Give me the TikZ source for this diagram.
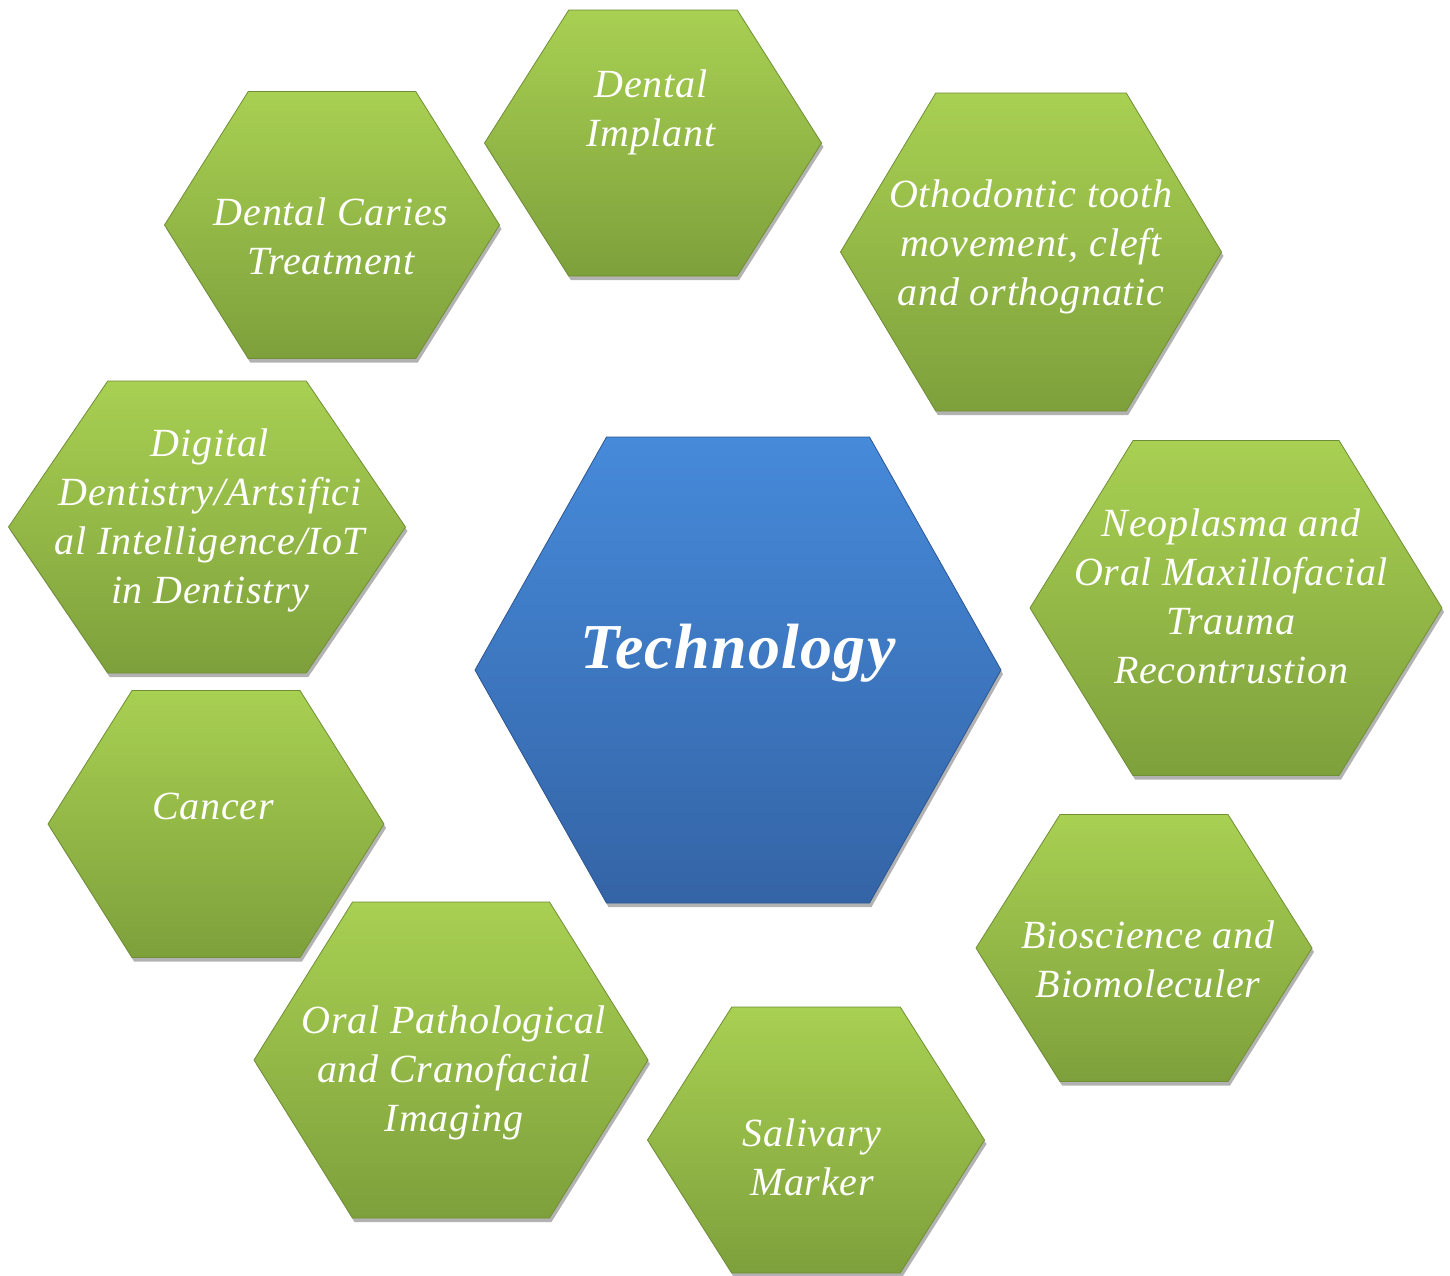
\documentclass[tikz,border=0pt]{standalone}
\usepackage{fontspec}
\setmainfont{Liberation Serif}
\newfontfamily\hexfont[LetterSpace=2]{Liberation Serif}
\usetikzlibrary{shadows}
\definecolor{gtop}{RGB}{168,208,82}
\definecolor{gbot}{RGB}{126,160,60}
\definecolor{gedge}{RGB}{112,142,52}
\definecolor{btop}{RGB}{70,138,218}
\definecolor{bbot}{RGB}{52,100,166}
\definecolor{bedge}{RGB}{44,86,146}
\tikzset{
  greenhex/.style={top color=gtop, bottom color=gbot, draw=gedge, line width=0.8pt,
    drop shadow={shadow xshift=2pt, shadow yshift=-4pt, opacity=0.3, fill=black}},
  bluehex/.style={top color=btop, bottom color=bbot, draw=bedge, line width=0.8pt,
    drop shadow={shadow xshift=2pt, shadow yshift=-4pt, opacity=0.3, fill=black}},
  hextext/.style={text=white, align=center, font=\hexfont\itshape\fontsize{40}{49}\selectfont, inner sep=0pt},
  centertext/.style={text=white, align=center, font=\hexfont\bfseries\itshape\fontsize{64}{70}\selectfont, inner sep=0pt}
}
% #1 style, #2 cx, #3 cy, #4 width, #5 height, #6 name
\newcommand{\drawhex}[6]{%
  \path[#1] ({#2-#4/2},#3) -- ({#2-#4/4},{#3-#5/2}) -- ({#2+#4/4},{#3-#5/2})
    -- ({#2+#4/2},#3) -- ({#2+#4/4},{#3+#5/2}) -- ({#2-#4/4},{#3+#5/2}) -- cycle;
  \coordinate (#6) at (#2,#3);}
\begin{document}
\begin{tikzpicture}[x=1pt,y=-1pt]
\useasboundingbox (0,0) rectangle (1450,1275);
\drawhex{greenhex}{653}{143}{337}{266}{implant}
\drawhex{greenhex}{332}{225}{335}{267}{caries}
\drawhex{greenhex}{1031}{252}{381}{318}{ortho}
\drawhex{greenhex}{207}{527}{397}{292}{digital}
\drawhex{bluehex}{738}{670}{526}{466}{tech}
\drawhex{greenhex}{1236}{608}{412}{335}{neo}
\drawhex{greenhex}{216}{824}{336}{267}{cancer}
\drawhex{greenhex}{1144}{948}{336}{267}{bio}
\drawhex{greenhex}{451}{1060}{394}{316}{oral}
\drawhex{greenhex}{816}{1140}{337}{266}{saliva}

\node[hextext] (timplant) at (651,112) {Dental\\Implant};
\node[hextext] (tcaries) at (331,236) {Dental Caries\\Treatment};
\node[hextext] (tortho) at (1031,247) {Othodontic tooth\\movement, cleft\\and orthognatic};
\node[hextext] (tdigital) at (210,520) {Digital\\Dentistry/Artsifici\\al Intelligence/IoT\\in Dentistry};
\node[centertext] (ttech) at (738,653) {Technology};
\node[hextext] (tneo) at (1231,596) {Neoplasma and\\Oral Maxillofacial\\Trauma\\Recontrustion};
\node[hextext] (tcancer) at (213,806) {Cancer};
\node[hextext] (tbio) at (1148,959) {Bioscience and\\Biomoleculer};
\node[hextext] (toral) at (454,1073) {Oral Pathological\\and Cranofacial\\Imaging};
\node[hextext] (tsaliva) at (812,1157) {Salivary\\Marker};
\end{tikzpicture}
\end{document}
